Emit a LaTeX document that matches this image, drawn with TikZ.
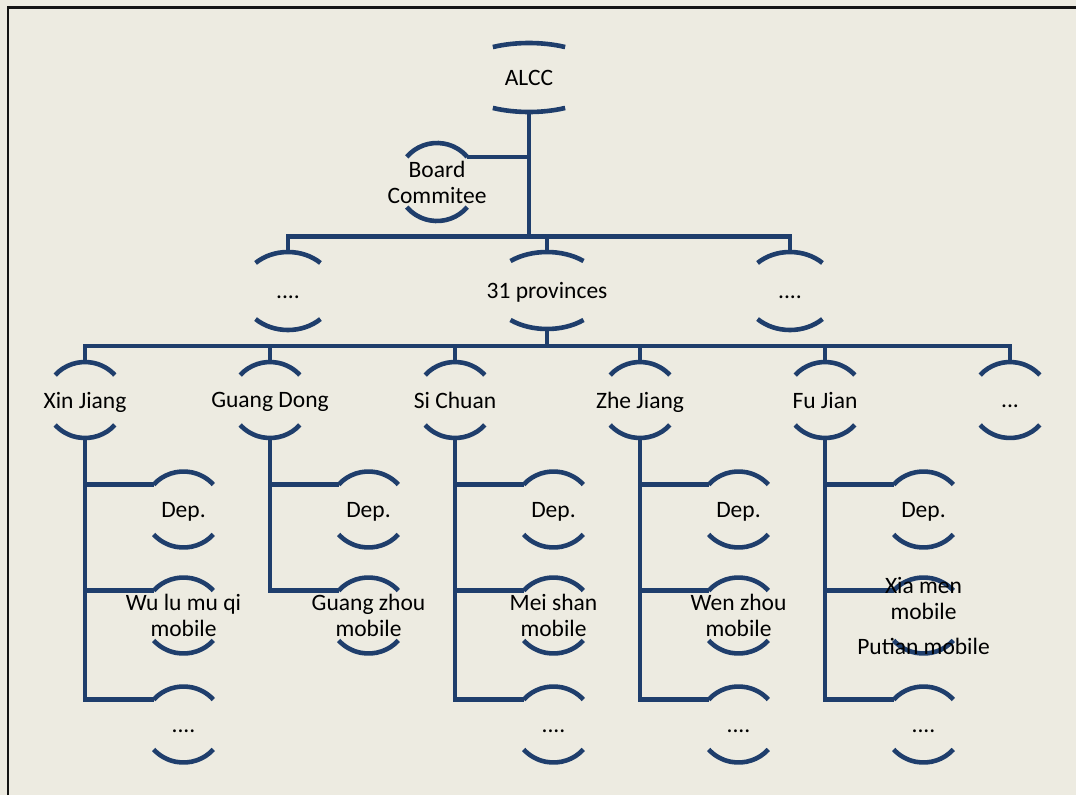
\documentclass[tikz,border=0pt]{standalone}
\usepackage{fontspec}
\setmainfont{Carlito}
\usetikzlibrary{calc}

\definecolor{paper}{RGB}{237,235,225}
\definecolor{orgblue}{RGB}{31,62,108}
\definecolor{framegray}{RGB}{20,20,20}

\pgfdeclarelayer{bg}
\pgfdeclarelayer{lines}
\pgfsetlayers{bg,lines,main}

\tikzset{
  orgline/.style={draw=orgblue, line width=4.6pt, line join=miter},
  orgtext/.style={align=center, inner sep=0pt, text depth=0pt, text=black,
                  font=\fontsize{23.5}{26}\selectfont},
}

% Unit drawn as two facing arcs of an ellipse around its label.
% #1 name, #2 centre, #3 x radius, #4 y radius, #5 arc end angle, #6 label
\newcommand\orgunit[6]{%
  \node[orgtext] (#1) at (#2) {#6};
  \coordinate (#1-t)  at ([shift={(270:#3 and #4)}]#1.center);
  \coordinate (#1-b)  at ([shift={(90:#3 and #4)}]#1.center);
  \coordinate (#1-tl) at ([shift={(180+#5:#3 and #4)}]#1.center);
  \coordinate (#1-tr) at ([shift={(360-#5:#3 and #4)}]#1.center);
  \coordinate (#1-br) at ([shift={(#5:#3 and #4)}]#1.center);
  \begin{pgfonlayer}{lines}
    \draw[orgline] (#1-tl) arc[start angle=180+#5, end angle=360-#5, x radius=#3, y radius=#4];
    \draw[orgline] (#1-br) arc[start angle=#5, end angle=180-#5, x radius=#3, y radius=#4];
  \end{pgfonlayer}}
\newcommand\smallunit[3]{\orgunit{#1}{#2}{39.5}{38}{41}{#3}}

\begin{document}
\begin{tikzpicture}[x=1pt, y=-1pt]
  \useasboundingbox (0,0) rectangle (1076,795);
  \begin{pgfonlayer}{bg}
    \fill[paper] (0,0) rectangle (1076,795);
    \draw[framegray, line width=2.6pt] (8,795) -- (8,7.5) -- (1076,7.5);
  \end{pgfonlayer}

  % top of the hierarchy
  \orgunit{alcc}{529,77.5}{77}{34.5}{62}{ALCC}
  \orgunit{board}{437,182}{39.5}{39}{40}{Board\\Commitee}

  % national level
  \orgunit{pL}{288,291}{46.7}{39}{46}{\vphantom{A}....}
  \orgunit{prov}{547,290.5}{56.8}{38.5}{50}{31 provinces}
  \orgunit{pR}{790,291}{46.7}{39}{46}{\vphantom{A}....}

  % provinces
  \smallunit{xj}{85,400}{Xin Jiang}
  \smallunit{gd}{270,400}{Guang Dong}
  \smallunit{sc}{455,400}{Si Chuan}
  \smallunit{zj}{640,400}{Zhe Jiang}
  \smallunit{fj}{825,400}{Fu Jian}
  \smallunit{more}{1010,400}{\vphantom{A}...}

  % units below each province
  \smallunit{xj1}{183.5,509.5}{Dep.}
  \smallunit{xj2}{183.5,615.5}{Wu lu mu qi\\mobile}
  \smallunit{xj3}{183.5,724.5}{\vphantom{A}....}

  \smallunit{gd1}{368.5,509.5}{Dep.}
  \smallunit{gd2}{368.5,615.5}{Guang zhou\\mobile}

  \smallunit{sc1}{553.5,509.5}{Dep.}
  \smallunit{sc2}{553.5,615.5}{Mei shan\\mobile}
  \smallunit{sc3}{553.5,724.5}{\vphantom{A}....}

  \smallunit{zj1}{738.5,509.5}{Dep.}
  \smallunit{zj2}{738.5,615.5}{Wen zhou\\mobile}
  \smallunit{zj3}{738.5,724.5}{\vphantom{A}....}

  \smallunit{fj1}{923.5,509.5}{Dep.}
  \smallunit{fj2}{923.5,615.5}{Xia men\\mobile\\[9pt]Putian mobile}
  \smallunit{fj3}{923.5,724.5}{\vphantom{A}....}

  % bus lines
  \coordinate (bus1) at (529,236.5);
  \coordinate (bus2) at (547,346);

  \begin{pgfonlayer}{lines}
    \draw[orgline] (alcc-b) -- (bus1);
    \draw[orgline] (board-tr) -- (board-tr -| alcc-b);
    \draw[orgline] (pL-t) -- (pL-t |- bus1) -- (pR-t |- bus1) -- (pR-t);
    \draw[orgline] (prov-t) -- (prov-t |- bus1);

    \draw[orgline] (prov-b) -- (prov-b |- bus2);
    \draw[orgline] (xj-t) -- (xj-t |- bus2) -- (more-t |- bus2) -- (more-t);
    \foreach \p in {gd,sc,zj,fj}
      \draw[orgline] (\p-t) -- (\p-t |- bus2);

    \foreach \p in {xj,sc,zj,fj} {
      \draw[orgline] (\p-b) |- (\p3-tl);
      \draw[orgline] (\p1-tl) -- (\p1-tl -| \p-b);
      \draw[orgline] (\p2-tl) -- (\p2-tl -| \p-b);
    }
    \draw[orgline] (gd-b) |- (gd2-tl);
    \draw[orgline] (gd1-tl) -- (gd1-tl -| gd-b);
  \end{pgfonlayer}
\end{tikzpicture}
\end{document}
